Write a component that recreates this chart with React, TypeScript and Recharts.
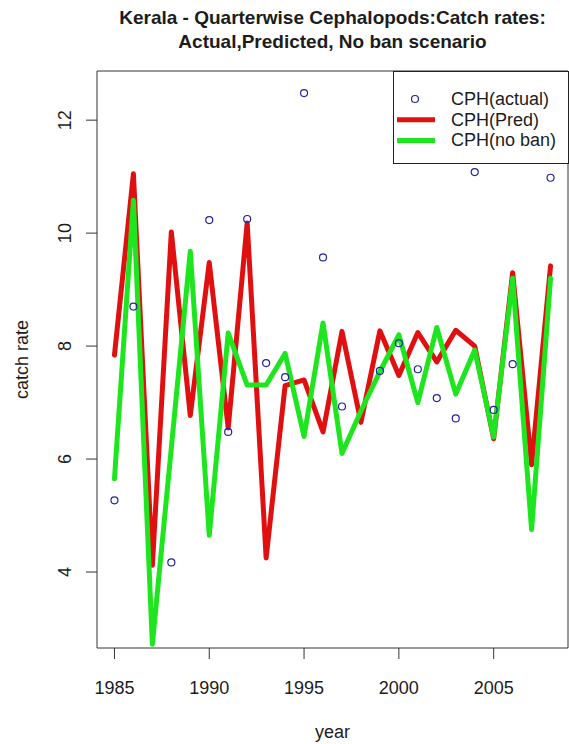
import React from 'react';
import { LineChart, Line, XAxis, YAxis, ReferenceArea, Legend } from 'recharts';

// Quarterwise cephalopod catch rates, Kerala
const years = [
  1985, 1986, 1987, 1988, 1989, 1990, 1991, 1992, 1993, 1994, 1995, 1996,
  1997, 1998, 1999, 2000, 2001, 2002, 2003, 2004, 2005, 2006, 2007, 2008,
];
const actual = [
  5.27, 8.7, null, 4.17, null, 10.23, 6.48, 10.25, 7.7, 7.45, 12.48, 9.57,
  6.93, null, 7.56, 8.05, 7.59, 7.08, 6.72, 11.08, 6.87, 7.68, null, 10.98,
];
const predicted = [
  7.84, 11.05, 4.12, 10.02, 6.77, 9.48, 6.55, 10.18, 4.25, 7.3, 7.4, 6.48,
  8.26, 6.65, 8.27, 7.48, 8.24, 7.72, 8.28, 8.0, 6.36, 9.3, 5.9, 9.42,
];
const noBan = [
  5.65, 10.58, 2.72, 6.2, 9.68, 4.65, 8.23, 7.31, 7.31, 7.87, 6.4, 8.41,
  6.1, 6.85, 7.55, 8.2, 7.0, 8.33, 7.15, 7.93, 6.39, 9.2, 4.75, 9.2,
];

const xTicks = [1985, 1990, 1995, 2000, 2005];
const yTicks = [4, 6, 8, 10, 12];
const titleLines = [
  'Kerala - Quarterwise Cephalopods:Catch rates:',
  'Actual,Predicted, No ban scenario',
];
const legendLabels = ['CPH(actual)', 'CPH(Pred)', 'CPH(no ban)'];

const X_DOMAIN: [number, number] = [1984.08, 2008.92];
const Y_DOMAIN: [number, number] = [2.655, 12.87];

const FONT = '"Liberation Sans", Arial, sans-serif';
const INK = '#1c1c1c';
const POINT_COLOR = '#2323a0';
const RED = '#e01010';
const GREEN = '#1ee61e';

const data = years.map((year, i) => ({
  year,
  actual: actual[i],
  pred: predicted[i],
  noBan: noBan[i],
}));

const XTick = (props: any) => {
  const { x, y, payload } = props;
  return (
    <text x={x} y={y} textAnchor="middle" dominantBaseline="central"
      fontFamily={FONT} fontSize={18} fill={INK}>
      {payload.value}
    </text>
  );
};

const YTick = (props: any) => {
  const { x, y, payload } = props;
  return (
    <text x={x} y={y} textAnchor="middle" dominantBaseline="central"
      transform={`rotate(-90, ${x}, ${y})`}
      fontFamily={FONT} fontSize={18} fill={INK}>
      {payload.value}
    </text>
  );
};

const XTitle = (props: any) => {
  const vb = props.viewBox;
  const cx = vb.x + vb.width / 2;
  return (
    <text x={cx} y={vb.y + 84} textAnchor="middle" dominantBaseline="central"
      fontFamily={FONT} fontSize={18} fill={INK}>
      year
    </text>
  );
};

const YTitle = (props: any) => {
  const vb = props.viewBox;
  const x = vb.x + 22;
  const y = vb.y + vb.height / 2;
  return (
    <text x={x} y={y} textAnchor="middle" dominantBaseline="central"
      transform={`rotate(-90, ${x}, ${y})`}
      fontFamily={FONT} fontSize={18} fill={INK}>
      catch rate
    </text>
  );
};

const LegendBox = () => (
  <div style={{ width: 176, height: 93, boxSizing: 'border-box', border: '1px solid #222', background: '#fff' }}>
    <svg width={174} height={91} style={{ display: 'block' }}>
      {legendLabels.map((label, i) => {
        const cy = 27 + i * 20.7;
        return (
          <g key={label}>
            {i === 0 ? (
              <circle cx={21} cy={cy} r={3.5} fill="none" stroke={POINT_COLOR} strokeWidth={1.2} />
            ) : (
              <line x1={3} x2={41} y1={cy} y2={cy} stroke={i === 1 ? RED : GREEN} strokeWidth={5} />
            )}
            <text x={57} y={cy} dominantBaseline="central" fontFamily={FONT} fontSize={18} fill={INK}>
              {label}
            </text>
          </g>
        );
      })}
    </svg>
  </div>
);

export default function App() {
  return (
    <div style={{ position: 'absolute', left: 0, top: 0, width: 569, height: 744, background: '#fff' }}>
      <div style={{
        position: 'absolute', left: 97, top: 6, width: 471, textAlign: 'center',
        fontFamily: FONT, fontWeight: 'bold', fontSize: 19, lineHeight: '24px', color: INK, zIndex: 2,
      }}>
        {titleLines.map((t) => <div key={t}>{t}</div>)}
      </div>
      <LineChart width={569} height={744} data={data}
        margin={{ top: 71, right: 1, bottom: 0, left: 0 }}>
        <XAxis dataKey="year" type="number" domain={X_DOMAIN} ticks={xTicks}
          allowDataOverflow axisLine={false} tickSize={11} tickMargin={29}
          tickLine={{ stroke: '#333' }} tick={XTick} height={96}
          label={{ content: XTitle }} />
        <YAxis type="number" domain={Y_DOMAIN} ticks={yTicks} allowDataOverflow
          axisLine={false} tickSize={11} tickMargin={21}
          tickLine={{ stroke: '#333' }} tick={YTick} width={97}
          label={{ content: YTitle }} />
        <ReferenceArea x1={X_DOMAIN[0]} x2={X_DOMAIN[1]} y1={Y_DOMAIN[0]} y2={Y_DOMAIN[1]}
          fill="none" stroke="#333" strokeWidth={1} ifOverflow="visible" />
        <Line dataKey="actual" stroke="none" isAnimationActive={false}
          dot={{ r: 3.5, stroke: POINT_COLOR, strokeWidth: 1.2, fill: 'none' }}
          activeDot={false} connectNulls={false} />
        <Line dataKey="pred" stroke={RED} strokeWidth={5} strokeLinejoin="round"
          strokeLinecap="round" dot={false} activeDot={false} isAnimationActive={false} />
        <Line dataKey="noBan" stroke={GREEN} strokeWidth={5} strokeLinejoin="round"
          strokeLinecap="round" dot={false} activeDot={false} isAnimationActive={false} />
        <Legend layout="vertical" align="center" verticalAlign="middle"
          content={LegendBox}
          wrapperStyle={{ position: 'absolute', left: 393, top: 71, width: 176, height: 93 }} />
      </LineChart>
    </div>
  );
}
